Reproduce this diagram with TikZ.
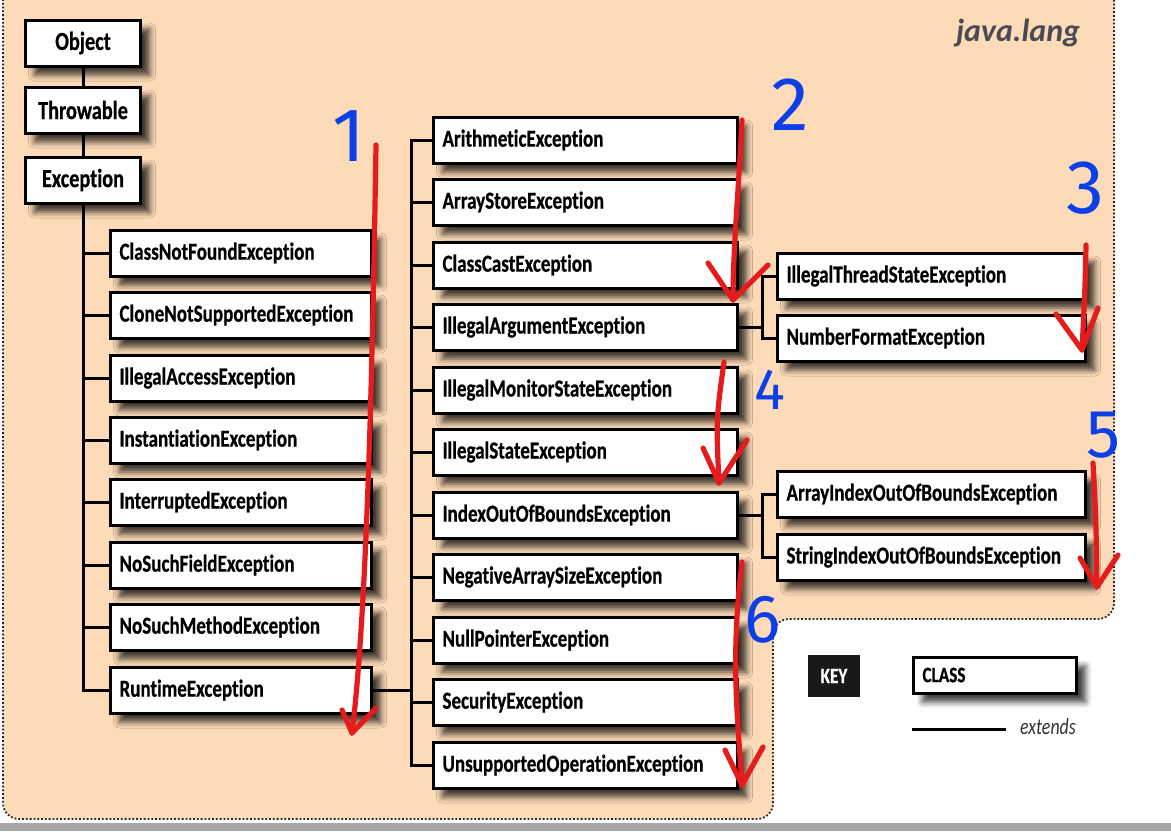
\documentclass[tikz,border=0pt]{standalone}
\usepackage{fontspec}
\setmainfont{Carlito}[FakeStretch=0.78, Ligatures=NoCommon, BoldFeatures={FakeBold=0.6}]
\newfontfamily\titlefont{Carlito}
\newfontfamily\handfont{Fira Sans}
\usetikzlibrary{shadows.blur}

\definecolor{peach}{RGB}{253,219,184}
\definecolor{pkgtext}{RGB}{74,74,84}
\definecolor{penred}{RGB}{230,28,28}
\definecolor{penblue}{RGB}{12,64,230}
\definecolor{barfill}{RGB}{168,168,170}

\tikzset{
  cls/.style={draw, line width=1.5pt, fill=white, minimum height=23pt,
    inner xsep=4.5pt, anchor=west, align=left,
    font=\bfseries\fontsize{12.2}{14}\selectfont,
    blur shadow={shadow xshift=4.5pt, shadow yshift=-4.5pt,
      shadow blur radius=3pt, shadow opacity=75}},
  topcls/.style={cls, text width=48.5pt, align=center, font=\bfseries\fontsize{13}{15}\selectfont},
  lcls/.style={cls, text width=121.5pt},
  mcls/.style={cls, text width=143pt},
  rcls/.style={cls, text width=145pt},
  ext/.style={line width=1.5pt},
  redpen/.style={penred, line width=2.6pt, line cap=round, line join=round},
  bluepen/.style={text=penblue, font=\handfont\fontsize{38}{40}\selectfont}
}

\begin{document}
\begin{tikzpicture}[x=0.5pt, y=-0.5pt]
\useasboundingbox (0,0) rectangle (1171,831);

% package area
\fill[peach, rounded corners=8] (3,-20) -- (3,819) -- (773,819) -- (773,619)
  -- (1114,619) -- (1114,-20) -- cycle;
\draw[densely dotted, line width=0.9pt, black!85, rounded corners=8]
  (3,-20) -- (3,819) -- (773,819) -- (773,619) -- (1114,619) -- (1114,-20);
\fill[barfill] (0,823) rectangle (1171,831);

\node[font=\titlefont\bfseries\itshape\fontsize{16}{18}\selectfont, text=pkgtext] (pkg) at (1018,33) {java.lang};

% root chain
\node[topcls] (obj) at (24,43) {Object};
\node[topcls] (thr) at (24,110) {Throwable};
\node[topcls] (exc) at (24,180) {Exception};

% checked exceptions
\node[lcls] (cnf) at (109,253) {ClassNotFoundException};
\node[lcls] (cns) at (109,315) {CloneNotSupportedException};
\node[lcls] (iac) at (109,378) {IllegalAccessException};
\node[lcls] (ins) at (109,440) {InstantiationException};
\node[lcls] (int) at (109,502) {InterruptedException};
\node[lcls] (nsf) at (109,565) {NoSuchFieldException};
\node[lcls] (nsm) at (109,627) {NoSuchMethodException};
\node[lcls] (rte) at (109,690) {RuntimeException};

% runtime exceptions
\node[mcls] (ari) at (432,140) {ArithmeticException};
\node[mcls] (ase) at (432,202) {ArrayStoreException};
\node[mcls] (cce) at (432,265) {ClassCastException};
\node[mcls] (iae) at (432,327) {IllegalArgumentException};
\node[mcls] (ims) at (432,390) {IllegalMonitorStateException};
\node[mcls] (ise) at (432,452) {IllegalStateException};
\node[mcls] (ioo) at (432,515) {IndexOutOfBoundsException};
\node[mcls] (nas) at (432,577) {NegativeArraySizeException};
\node[mcls] (npe) at (432,640) {NullPointerException};
\node[mcls] (sec) at (432,702) {SecurityException};
\node[mcls] (uoe) at (432,765) {UnsupportedOperationException};

% third level
\node[rcls] (its) at (776,276) {IllegalThreadStateException};
\node[rcls] (nfe) at (776,338) {NumberFormatException};
\node[rcls] (aio) at (776,494) {ArrayIndexOutOfBoundsException};
\node[rcls] (sio) at (776,557) {StringIndexOutOfBoundsException};

% extends lines
\draw[ext] (obj) -- (thr);
\draw[ext] (thr) -- (exc);
\draw[ext] (exc.south) |- (cnf.west);
\draw[ext] (exc.south) |- (cns.west);
\draw[ext] (exc.south) |- (iac.west);
\draw[ext] (exc.south) |- (ins.west);
\draw[ext] (exc.south) |- (int.west);
\draw[ext] (exc.south) |- (nsf.west);
\draw[ext] (exc.south) |- (nsm.west);
\draw[ext] (exc.south) |- (rte.west);

\coordinate (rtbus) at (411,690);
\draw[ext] (rte.east) -- (rtbus);
\draw[ext] (rtbus) |- (ari.west);
\draw[ext] (rtbus) |- (ase.west);
\draw[ext] (rtbus) |- (cce.west);
\draw[ext] (rtbus) |- (iae.west);
\draw[ext] (rtbus) |- (ims.west);
\draw[ext] (rtbus) |- (ise.west);
\draw[ext] (rtbus) |- (ioo.west);
\draw[ext] (rtbus) |- (nas.west);
\draw[ext] (rtbus) |- (npe.west);
\draw[ext] (rtbus) |- (sec.west);
\draw[ext] (rtbus) |- (uoe.west);

\coordinate (iabus) at (762,327);
\draw[ext] (iae.east) -- (iabus);
\draw[ext] (iabus) |- (its.west);
\draw[ext] (iabus) |- (nfe.west);
\coordinate (ioobus) at (762,515);
\draw[ext] (ioo.east) -- (ioobus);
\draw[ext] (ioobus) |- (aio.west);
\draw[ext] (ioobus) |- (sio.west);

% key
\node[fill=black!90, text=white, minimum width=26pt, minimum height=21pt,
  font=\bfseries\fontsize{11}{13}\selectfont] (key) at (834,676) {KEY};
\node[cls, minimum height=18pt, text width=72.5pt,
  font=\bfseries\fontsize{11}{13}\selectfont] (keycls) at (912,675) {CLASS};
\coordinate (keyA) at (912,729);
\coordinate (keyB) at (1006,729);
\draw[ext] (keyA) -- (keyB);
\node[font=\itshape\fontsize{11.5}{13}\selectfont, text=black!80] (keyext) at (1048,727) {extends};

% hand marks
\draw[redpen] (376,145) .. controls (372,400) and (366,620) .. (352,733);
\draw[redpen] (342,710) -- (352,733) -- (376,708);
\draw[redpen] (742,120) .. controls (738,200) and (733,250) .. (733,300);
\draw[redpen] (708,263) -- (733,300) -- (768,265);
\draw[redpen] (1086,245) .. controls (1085,290) .. (1082,350);
\draw[redpen] (1056,314) -- (1082,350) -- (1098,308);
\draw[redpen] (724,362) .. controls (716,420) .. (719,483);
\draw[redpen] (703,448) -- (719,483) -- (747,440);
\draw[redpen] (1093,463) .. controls (1096,520) .. (1097,587);
\draw[redpen] (1080,558) -- (1097,587) -- (1118,555);
\draw[redpen] (742,562) .. controls (730,660) and (738,720) .. (742,785);
\draw[redpen] (725,750) -- (742,785) -- (763,747);

\node[bluepen] (num1) at (349,136) {1};
\node[bluepen] (num2) at (790,105) {2};
\node[bluepen] (num3) at (1085,188) {3};
\node[bluepen, font=\handfont\fontsize{29}{31}\selectfont] (num4) at (770,390) {4};
\node[bluepen, font=\handfont\fontsize{34}{36}\selectfont] (num5) at (1104,435) {5};
\node[bluepen, font=\handfont\fontsize{34}{36}\selectfont] (num6) at (763,620) {6};
\end{tikzpicture}
\end{document}
